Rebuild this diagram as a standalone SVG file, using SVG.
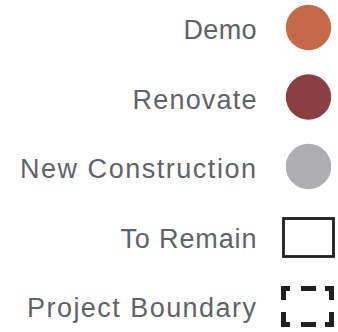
<svg xmlns="http://www.w3.org/2000/svg" width="338" height="332" viewBox="0 0 338 332">
<style>
.lbl{font-family:"Liberation Sans",Arial,sans-serif;font-size:27px;fill:#5f6368;text-anchor:end}
.box{fill:none;stroke:#231f20;stroke-width:2.8}
.bnd{fill:none;stroke:#231f20;stroke-width:5;stroke-linecap:butt;stroke-linejoin:miter}
</style>
<rect width="338" height="332" fill="#ffffff"/>
<g id="demo">
<text class="lbl" x="256.5" y="39" textLength="73" lengthAdjust="spacing">Demo</text>
<circle cx="308.5" cy="27.5" r="22.7" fill="#c46a48"/>
</g>
<g id="renovate">
<text class="lbl" x="256.5" y="108.5" textLength="124" lengthAdjust="spacing">Renovate</text>
<circle cx="308.5" cy="97" r="22.7" fill="#8c3f43"/>
</g>
<g id="new-construction">
<text class="lbl" x="256" y="177.5" textLength="236" lengthAdjust="spacing">New Construction</text>
<circle cx="308.5" cy="166.5" r="22.7" fill="#aeaeb0"/>
</g>
<g id="to-remain">
<text class="lbl" x="256.5" y="247.5" textLength="136" lengthAdjust="spacing">To Remain</text>
<rect class="box" x="283.5" y="218.5" width="50" height="38"/>
</g>
<g id="project-boundary">
<text class="lbl" x="256" y="316.5" textLength="229" lengthAdjust="spacing">Project Boundary</text>
<path class="bnd" d="M283.5,300V288.5H290M325,288.5H331.5V300M283.5,312V324.5H290M325,324.5H331.5V312M301,288.5H316M301,324.5H316"/>
</g>
<g id="connectors"></g>
</svg>
